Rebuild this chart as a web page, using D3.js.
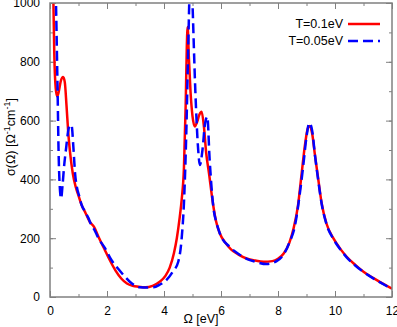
<!doctype html>
<html lang="en">
  <head>
    <meta charset="utf-8">
    <title>Optical conductivity</title>
    <style>
      body { margin: 0; background: #fff; }
      svg { display: block; font-family: "Liberation Sans", Arial, sans-serif; }
    </style>
  </head>
  <body>
    <script src="https://cdn.jsdelivr.net/npm/d3@7"></script>
    <script>
      // T = 0.1 eV (red, solid)
      var omegaHot = [0.08, 0.12, 0.15, 0.2, 0.25, 0.3, 0.38, 0.46, 0.52, 0.58, 0.64, 0.7, 0.8, 0.9, 1.0, 1.1, 1.25, 1.4, 1.55, 1.7, 1.9, 2.1, 2.3, 2.5, 2.7, 2.9, 3.1, 3.35, 3.6, 3.85, 4.05, 4.2, 4.35, 4.45, 4.55, 4.62, 4.7, 4.76, 4.8, 4.83, 4.87, 4.93, 5.0, 5.08, 5.16, 5.24, 5.32, 5.4, 5.48, 5.58, 5.7, 5.82, 5.96, 6.15, 6.35, 6.6, 6.9, 7.2, 7.5, 7.8, 8.0, 8.2, 8.4, 8.55, 8.7, 8.83, 8.95, 9.05, 9.12, 9.2, 9.3, 9.4, 9.53, 9.7, 9.94, 10.2, 10.41, 10.7, 11.0, 11.3, 11.6, 12.0];
      var sigmaHot = [1150, 1000, 830, 710, 682, 695, 735, 748, 730, 650, 560, 495, 420, 375, 345, 315, 285, 255, 238, 205, 165, 125, 90, 63, 46, 38, 35, 33, 38, 52, 72, 100, 150, 200, 270, 330, 440, 650, 850, 918, 820, 700, 615, 580, 595, 620, 630, 580, 490, 420, 330, 260, 216, 185, 162, 145, 131, 124, 120, 122, 130, 148, 185, 235, 310, 420, 520, 575, 582, 555, 480, 410, 320, 250, 200, 162, 137, 110, 86, 67, 50, 28];

      // T = 0.05 eV (blue, dashed)
      var omegaCold = [0.1, 0.2, 0.23, 0.27, 0.3, 0.34, 0.39, 0.44, 0.5, 0.57, 0.63, 0.7, 0.76, 0.82, 0.88, 0.94, 1.02, 1.11, 1.22, 1.34, 1.45, 1.55, 1.7, 1.93, 2.16, 2.4, 2.63, 2.8, 3.0, 3.16, 3.4, 3.63, 3.85, 4.09, 4.3, 4.5, 4.62, 4.7, 4.78, 4.85, 4.9, 4.95, 5.0, 5.1, 5.2, 5.26, 5.35, 5.44, 5.52, 5.6, 5.73, 5.85, 5.96, 6.3, 6.67, 6.9, 7.2, 7.6, 7.95, 8.2, 8.4, 8.6, 8.77, 8.89, 9.0, 9.1, 9.2, 9.3, 9.4, 9.53, 9.7, 9.94, 10.2, 10.41, 10.7, 11.0, 11.3, 11.6, 12.0];
      var sigmaCold = [1500, 1050, 900, 680, 500, 380, 335, 380, 450, 510, 560, 585, 582, 510, 420, 375, 345, 313, 292, 270, 245, 230, 200, 166, 125, 95, 69, 52, 38, 33, 32, 33, 42, 58, 85, 120, 200, 320, 550, 850, 1050, 1150, 1000, 700, 500, 449, 500, 590, 613, 470, 307, 250, 216, 171, 143, 130, 120, 112, 122, 145, 185, 245, 355, 450, 545, 592, 565, 480, 405, 318, 248, 198, 160, 135, 108, 85, 66, 49, 27];

      var xTicks = [0, 2, 4, 6, 8, 10, 12];
      var yTicks = [0, 200, 400, 600, 800, 1000];

      var seriesNames = ["T=0.1eV", "T=0.05eV"];
      var seriesColors = ["#ff0000", "#0000ff"];

      var margin = {top: 3, right: 5, bottom: 30, left: 50},
          W = 397, H = 327,
          width = W - margin.left - margin.right,
          height = H - margin.top - margin.bottom;

      var svg = d3.select("body").append("svg")
        .attr("width", W)
        .attr("height", H);

      svg.append("defs").append("clipPath")
        .attr("id", "plotclip")
        .append("rect")
        .attr("width", width)
        .attr("height", height);

      var chart = svg.append("g")
        .attr("transform", "translate(" + margin.left + "," + margin.top + ")");

      var x = d3.scaleLinear().domain([0, 12]).range([0, width]);
      var y = d3.scaleLinear().domain([0, 1000]).range([height, 0]);

      var gray = "#808080";

      // inward ticks on all four sides
      function tickAxis(axis, tf) {
        var g = chart.append("g").attr("transform", tf).call(axis);
        g.select(".domain").remove();
        g.selectAll("line").attr("stroke", gray);
        g.selectAll("text").attr("fill", "#000").style("font-size", "12px");
        return g;
      }

      var xMinor = d3.range(0, 12.01, 1);
      var yMinor = d3.range(0, 1000.1, 100);

      tickAxis(d3.axisBottom(x).tickValues(xTicks).tickSizeInner(-6).tickPadding(9).tickFormat(d3.format("d")), "translate(0," + height + ")");
      tickAxis(d3.axisBottom(x).tickValues(xMinor).tickSizeInner(-3).tickFormat(""), "translate(0," + height + ")");
      tickAxis(d3.axisTop(x).tickValues(xTicks).tickSizeInner(-6).tickFormat(""), "translate(0,0)");
      tickAxis(d3.axisTop(x).tickValues(xMinor).tickSizeInner(-3).tickFormat(""), "translate(0,0)");
      tickAxis(d3.axisLeft(y).tickValues(yTicks).tickSizeInner(-6).tickPadding(10).tickFormat(d3.format("d")), "translate(0,0)");
      tickAxis(d3.axisLeft(y).tickValues(yMinor).tickSizeInner(-3).tickFormat(""), "translate(0,0)");
      tickAxis(d3.axisRight(y).tickValues(yTicks).tickSizeInner(-6).tickFormat(""), "translate(" + width + ",0)");
      tickAxis(d3.axisRight(y).tickValues(yMinor).tickSizeInner(-3).tickFormat(""), "translate(" + width + ",0)");

      var line = d3.line()
        .x(function(d){ return x(d[0]); })
        .y(function(d){ return y(d[1]); })
        .curve(d3.curveMonotoneX);

      var plot = chart.append("g").attr("clip-path", "url(#plotclip)");

      plot.append("path")
        .datum(d3.zip(omegaHot, sigmaHot))
        .attr("d", line)
        .attr("fill", "none")
        .attr("stroke", seriesColors[0])
        .attr("stroke-width", 2.5);

      plot.append("path")
        .datum(d3.zip(omegaCold, sigmaCold))
        .attr("d", line)
        .attr("fill", "none")
        .attr("stroke", seriesColors[1])
        .attr("stroke-width", 2.5)
        .attr("stroke-dasharray", "10,5");

      // frame
      chart.append("rect")
        .attr("width", width)
        .attr("height", height)
        .attr("fill", "none")
        .attr("stroke", gray)
        .attr("stroke-width", 1.5);

      // legend
      var legend = chart.selectAll(".legend")
        .data(seriesNames)
        .enter().append("g")
        .attr("transform", function(d, i){ return "translate(0," + (21 + i * 17) + ")"; });

      legend.append("text")
        .attr("x", 293)
        .attr("dy", "0.35em")
        .attr("text-anchor", "end")
        .style("font-size", "12.5px")
        .text(function(d){ return d; });

      legend.append("line")
        .attr("x1", 298).attr("x2", 330)
        .attr("stroke", function(d, i){ return seriesColors[i]; })
        .attr("stroke-width", 2.5)
        .attr("stroke-dasharray", function(d, i){ return i ? "10,5" : null; });

      // axis labels
      svg.append("text")
        .attr("x", 201)
        .attr("y", 323)
        .attr("text-anchor", "middle")
        .style("font-size", "12.5px")
        .text("Ω [eV]");

      var yl = svg.append("text")
        .attr("transform", "translate(15,137) rotate(-90)")
        .attr("text-anchor", "middle")
        .style("font-size", "12.5px");
      yl.append("tspan").text("σ(Ω) [Ω");
      yl.append("tspan").attr("baseline-shift", "super").style("font-size", "9px").text("-1");
      yl.append("tspan").text("cm");
      yl.append("tspan").attr("baseline-shift", "super").style("font-size", "9px").text("-1");
      yl.append("tspan").text("]");
    </script>
  </body>
</html>
